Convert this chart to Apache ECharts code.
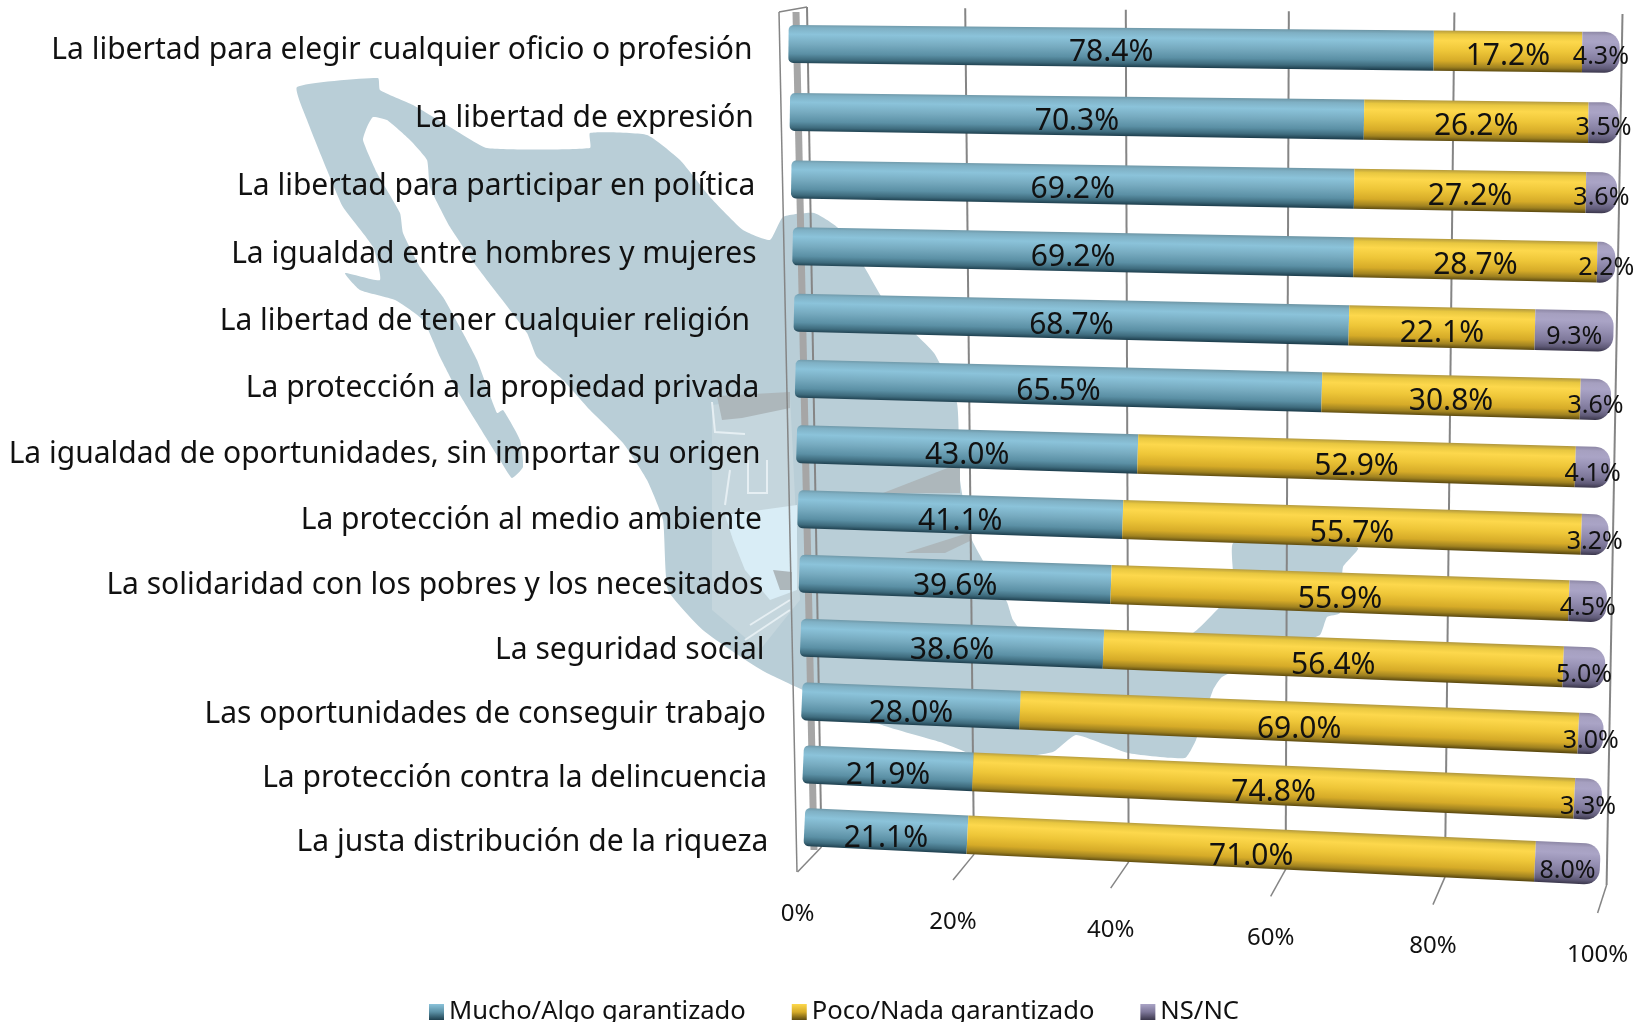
<!DOCTYPE html>
<html>
<head>
<meta charset="utf-8">
<style>html,body{margin:0;padding:0;background:#fff;overflow:hidden}#c{width:1634px;height:1022px}</style>
<script src="https://cdn.jsdelivr.net/npm/echarts@6/dist/echarts.min.js"></script>
</head>
<body>
<div id="c"></div>
<script>
const categories = [
  'La libertad para elegir cualquier oficio o profesión',
  'La libertad de expresión',
  'La libertad para participar en política',
  'La igualdad entre hombres y mujeres',
  'La libertad de tener cualquier religión ',
  'La protección a la propiedad privada',
  'La igualdad de oportunidades, sin importar su origen',
  'La protección al medio ambiente',
  'La solidaridad con los pobres y los necesitados',
  'La seguridad social',
  'Las oportunidades de conseguir trabajo',
  'La protección contra la delincuencia',
  'La justa distribución de la riqueza'
];
const mucho = [78.4,70.3,69.2,69.2,68.7,65.5,43.0,41.1,39.6,38.6,28.0,21.9,21.1];
const poco  = [17.2,26.2,27.2,28.7,22.1,30.8,52.9,55.7,55.9,56.4,69.0,74.8,71.0];
const nsnc  = [4.3,3.5,3.6,2.2,9.3,3.6,4.1,3.2,4.5,5.0,3.0,3.3,8.0];
const axisTicks = [0,20,40,60,80,100];
const seriesNames = ['Mucho/Algo garantizado','Poco/Nada garantizado','NS/NC'];

const FONT = '"Noto Sans", sans-serif';

// perspective mapping of the plot plane onto the page
function homography(q){
  const [p0,p1,p2,p3]=q;
  const dx1=p1[0]-p2[0],dx2=p3[0]-p2[0],sx=p0[0]-p1[0]+p2[0]-p3[0];
  const dy1=p1[1]-p2[1],dy2=p3[1]-p2[1],sy=p0[1]-p1[1]+p2[1]-p3[1];
  const den=dx1*dy2-dx2*dy1;
  const g=(sx*dy2-dx2*sy)/den,h=(dx1*sy-sx*dy1)/den;
  const a=p1[0]-p0[0]+g*p1[0],b=p3[0]-p0[0]+h*p3[0],c=p0[0];
  const d=p1[1]-p0[1]+g*p1[1],e=p3[1]-p0[1]+h*p3[1],f=p0[1];
  return (u,v)=>{const w=g*u+h*v+1;return [(a*u+b*v+c)/w,(d*u+e*v+f)/w];};
}
const barBase   = homography([[788.5,44],[1620.5,52.5],[1600,864.5],[804.4,827]]);
function barPlane(u,v){return barBase(u-0.003*Math.sin(Math.PI*u)*(1-v),v);}
const backPlane = homography([[807,7],[1622.5,14],[1606.6,885],[821.5,847]]);
function frontTick(u){const p=backPlane(u,1);return [p[0]-24+15*u,p[1]+25+3*u];}

function uOf(px,cs){return (px-cs.x)/cs.width;}
function vOf(py,cs){const band=cs.height/categories.length;return (py-cs.y-band/2)/(cs.height-band);}

const toStops=a=>a.map(s=>({offset:s[0],color:s[1]}));
const stops = [
  toStops([[0,'#6f98a8'],[.08,'#7fb0c4'],[.25,'#8bc3da'],[.5,'#77abc0'],[.75,'#5b90a5'],[.9,'#3e6b7d'],[1,'#1e3f4e']]),
  toStops([[0,'#b49a3e'],[.1,'#e8c740'],[.25,'#fdd84c'],[.5,'#eec638'],[.75,'#d6ab28'],[.9,'#a08220'],[1,'#5c4a10']]),
  toStops([[0,'#8d87a5'],[.1,'#a6a0c0'],[.25,'#aaa4c6'],[.5,'#958fb2'],[.75,'#7d7799'],[.9,'#5f5a77'],[1,'#3a364b']])
];

function halfThick(u){return 19+1.5*u;}

function barSeries(sIdx,values){
  const prev=(i)=>{let s=0;if(sIdx>0)s+=mucho[i];if(sIdx>1)s+=poco[i];return s;};
  return {
    type:'custom',name:seriesNames[sIdx],coordinateSystem:'cartesian2d',silent:true,
    data:values.map((v,i)=>[prev(i),prev(i)+v,i,v]),
    encode:{x:[0,1],y:2},clip:false,z:5,
    renderItem(params,api){
      const cs=params.coordSys,r=api.value(2);
      const c0=api.coord([api.value(0),r]),c1=api.coord([Math.min(api.value(1),100),r]);
      const u0=uOf(c0[0],cs),u1=uOf(c1[0],cs),v=vOf(c0[1],cs);
      const a=barPlane(u0,v),b=barPlane(u1,v);
      const L=Math.hypot(b[0]-a[0],b[1]-a[1]),ux=(b[0]-a[0])/L,uy=(b[1]-a[1])/L,nx=-uy,ny=ux;
      const ha=halfThick(u0),hb=halfThick(u1);
      const pts=[];
      const pt=(p,al,ac)=>[p[0]+ux*al+nx*ac,p[1]+uy*al+ny*ac];
      if(sIdx===0){
        const rad=5;
        for(let t=0;t<=6;t++){const k=t/6*Math.PI/2;pts.push(pt(a,rad-rad*Math.cos(k),-ha+rad-rad*Math.sin(k)));}
      }else{pts.push(pt(a,0,-ha));}
      if(sIdx===2){
        const rad=15;
        for(let t=0;t<=8;t++){const k=t/8*Math.PI/2;pts.push(pt(b,-rad+rad*Math.sin(k),-hb+rad-rad*Math.cos(k)));}
        for(let t=0;t<=8;t++){const k=t/8*Math.PI/2;pts.push(pt(b,-rad+rad*Math.cos(k),hb-rad+rad*Math.sin(k)));}
      }else{pts.push(pt(b,0,-hb));pts.push(pt(b,0,hb));}
      if(sIdx===0){
        const rad=5;
        for(let t=0;t<=6;t++){const k=t/6*Math.PI/2;pts.push(pt(a,rad-rad*Math.sin(k),ha-rad+rad*Math.cos(k)));}
      }else{pts.push(pt(a,0,ha));}
      const mx=(a[0]+b[0])/2,my=(a[1]+b[1])/2,hm=(ha+hb)/2;
      const fill=new echarts.graphic.LinearGradient(mx-nx*hm,my-ny*hm,mx+nx*hm,my+ny*hm,stops[sIdx],true);
      const small=sIdx===2;
      return {type:'group',children:[
        {type:'polygon',shape:{points:pts},style:{fill}},
        {type:'text',z2:50,style:{
          text:api.value(3).toFixed(1)+'%',
          x:mx,y:my+5+3*v,
          align:'center',verticalAlign:'middle',
          fontFamily:FONT,fontSize:small?25:30,fill:'#111'
        }}
      ]};
    }
  };
}

const tickSeries={
  type:'custom',name:'ejes',coordinateSystem:'cartesian2d',silent:true,clip:false,z:2,
  data:axisTicks.map(t=>[t]),encode:{x:0},
  renderItem(params,api){
    const cs=params.coordSys,t=api.value(0);
    const c=api.coord([t,0]),u=uOf(c[0],cs);
    const top=backPlane(u,0),bot=backPlane(u,1),fr=frontTick(u);
    const line=(p,q,w,col)=>({type:'line',shape:{x1:p[0],y1:p[1],x2:q[0],y2:q[1]},style:{stroke:col||'#858585',lineWidth:w||2}});
    const kids=[line(top,bot),line(bot,fr,1.5)];
    if(t===0){
      kids.push(line([796,12],[814,850],7,'#a6a6a6'));
      kids.push(line([779,12],[797,872],1.5));
      kids.push(line([779,12],top,1.5));
    }
    kids.push({type:'text',style:{text:t+'%',x:fr[0],y:fr[1]+42,align:'center',verticalAlign:'middle',
      fontFamily:FONT,fontSize:24,fill:'#111'}});
    return {type:'group',children:kids};
  }
};

const catSeries={
  type:'custom',name:'categorias',coordinateSystem:'cartesian2d',silent:true,clip:false,z:6,
  data:categories.map((c,i)=>[0,i]),encode:{x:0,y:1},
  renderItem(params,api){
    const cs=params.coordSys,i=api.value(1);
    const c=api.coord([0,i]),v=vOf(c[1],cs),p=barPlane(0,v);
    return {type:'text',style:{text:categories[i],x:p[0]-36,y:p[1]+6+9*v,align:'right',verticalAlign:'middle',
      fontFamily:FONT,fontSize:30,fill:'#111'}};
  }
};

// decorative background: map silhouette and faded emblem
const mapOutline=[[297,87],[378,78],[380,90],[413,105],[450,127],[487,148],[590,148],[590,133],[647,135],[680,160],[710,197],[743,230],[770,240],[783,217],[814,213],[837,227],[862,263],[888,307],[934,353],[957,403],[960,480],[972,540],[1007,602],[1013,620],[1040,652],[1130,655],[1193,633],[1233,590],[1233,543],[1290,525],[1358,548],[1343,567],[1340,613],[1327,617],[1320,635],[1290,645],[1222,677],[1213,690],[1196,740],[1185,758],[1128,753],[1076,735],[1053,752],[990,760],[940,742],[882,725],[765,672],[704,631],[668,590],[663,520],[647,480],[623,443],[590,410],[563,380],[537,357],[527,333],[500,297],[477,267],[450,227],[430,187],[427,160],[410,140],[387,120],[373,117],[367,127],[363,140],[377,173],[400,213],[403,233],[420,267],[443,297],[463,333],[477,360],[497,413],[503,410],[520,440],[523,467],[512,478],[500,460],[477,423],[457,390],[440,357],[423,320],[395,300],[360,290],[345,273],[380,280],[373,247],[343,207],[327,170],[307,120]];
const mapPale=[[712,405],[790,395],[800,600],[760,650],[712,610]];
const mapLight=[[725,515],[797,505],[797,590],[770,600],[745,570],[733,540]];
const mapDark=[[[717,396],[790,392],[790,408],[742,418],[722,420]],[[883,493],[950,467],[960,467],[960,493]],[[905,553],[968,533],[972,540],[945,553]],[[773,570],[792,572],[792,590],[780,590]]];
const mapLines=[[[712,402],[715,432],[745,434]],[[748,460],[748,493],[767,493],[767,460]],[[745,640],[790,610]],[[750,625],[790,600]],[[730,470],[725,505]]];

const chart=echarts.init(document.getElementById('c'),null,{renderer:'canvas'});
chart.setOption({
  animation:false,
  backgroundColor:'#fff',
  grid:{left:790,right:20,top:10,bottom:140},
  xAxis:{type:'value',min:0,max:100,interval:20,show:false},
  yAxis:{type:'category',data:categories,inverse:true,show:false},
  legend:{
    left:424,top:994,itemWidth:15,itemHeight:16,itemGap:46,icon:'rect',selectedMode:false,
    textStyle:{fontFamily:FONT,fontSize:25.6,color:'#111'},
    data:seriesNames.map((n,i)=>({name:n,itemStyle:{color:new echarts.graphic.LinearGradient(0,0,0,1,[{offset:0,color:stops[i][2].color},{offset:.5,color:stops[i][4].color},{offset:1,color:stops[i][6].color}])}}))
  },
  graphic:[
    {type:'polygon',z:-10,silent:true,shape:{points:mapOutline,smooth:0.15},style:{fill:'#b9ced7'}},
    {type:'polygon',z:-9,silent:true,shape:{points:mapPale},style:{fill:'#c5d6dd'}},
    {type:'polygon',z:-9,silent:true,shape:{points:mapLight},style:{fill:'#d9edf6'}},
    ...mapDark.map(p=>({type:'polygon',z:-8,silent:true,shape:{points:p},style:{fill:'#adb7bb'}})),
    ...mapLines.map(p=>({type:'polyline',z:-7,silent:true,shape:{points:p},style:{stroke:'#e6eff3',lineWidth:2,fill:null}}))
  ],
  series:[tickSeries,barSeries(0,mucho),barSeries(1,poco),barSeries(2,nsnc),catSeries]
});
</script>
</body>
</html>
